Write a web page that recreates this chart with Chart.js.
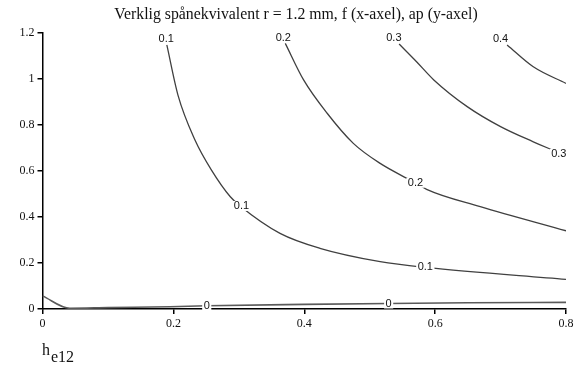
<!DOCTYPE html>
<html>
<head>
<meta charset="utf-8">
<script src="https://cdn.jsdelivr.net/npm/chart.js@4.4.1/dist/chart.umd.min.js"></script>
<style>
  html, body { margin: 0; padding: 0; background: #ffffff; }
  #wrap { width: 579px; height: 378px; position: relative; }
</style>
</head>
<body>
<div id="wrap"><canvas id="c" width="579" height="378"></canvas></div>
<script>
// Title, axes and tick values
const titleText = 'Verklig spånekvivalent r = 1.2 mm, f (x-axel), ap (y-axel)';
const xTicks = [0, 0.2, 0.4, 0.6, 0.8];
const yTicks = [0, 0.2, 0.4, 0.6, 0.8, 1, 1.2];

// Contour levels of h_e12 over f (x) and ap (y)
const levels = ['0', '0.1', '0.2', '0.3', '0.4'];

const f_h0  = [0, 0.042, 0.10, 0.195, 0.251, 0.40, 0.529, 0.65, 0.80];
const ap_h0 = [0.057, 0.003, 0.006, 0.010, 0.014, 0.020, 0.024, 0.027, 0.029];

const f_h01  = [0.190, 0.207, 0.233, 0.258, 0.287, 0.302, 0.363, 0.424, 0.516, 0.585, 0.80];
const ap_h01 = [1.148, 0.930, 0.735, 0.605, 0.488, 0.448, 0.329, 0.264, 0.206, 0.181, 0.129];

const f_h02  = [0.371, 0.399, 0.435, 0.475, 0.516, 0.557, 0.570, 0.587, 0.669, 0.80];
const ap_h02 = [1.155, 0.996, 0.851, 0.720, 0.633, 0.568, 0.549, 0.520, 0.445, 0.340];

const f_h03  = [0.545, 0.572, 0.598, 0.649, 0.700, 0.750, 0.773, 0.80];
const ap_h03 = [1.152, 1.074, 0.996, 0.880, 0.793, 0.727, 0.699, 0.668];

const f_h04  = [0.710, 0.750, 0.80];
const ap_h04 = [1.148, 1.053, 0.981];

// Inline contour labels: level text with its f / ap anchor
const labelText = ['0.1', '0.2', '0.3', '0.4', '0.1', '0.2', '0.3', '0.1', '0', '0'];
const labelF    = [0.189, 0.368, 0.537, 0.700, 0.304, 0.570, 0.789, 0.585, 0.251, 0.529];
const labelAp   = [1.172, 1.178, 1.178, 1.174, 0.448, 0.549, 0.674, 0.181, 0.014, 0.024];

function toPoints(fs, aps) {
  return fs.map((f, i) => ({ x: f, y: aps[i] }));
}

const series = [
  [f_h0, ap_h0], [f_h01, ap_h01], [f_h02, ap_h02], [f_h03, ap_h03], [f_h04, ap_h04]
];

const datasets = series.map((s, i) => ({
  label: levels[i],
  data: toPoints(s[0], s[1]),
  showLine: true,
  borderColor: i === 0 ? '#5a5a5a' : '#404040',
  borderWidth: i === 0 ? 1.6 : 1.3,
  pointRadius: 0,
  cubicInterpolationMode: 'monotone',
  fill: false
}));

const SERIF = '"Liberation Serif", "Times New Roman", serif';
const SANS = '"Liberation Sans", Arial, sans-serif';

const decor = {
  id: 'decor',
  afterDatasetsDraw(chart) {
    const ctx = chart.ctx;
    const xs = chart.scales.x, ys = chart.scales.y;
    ctx.save();
    ctx.font = '11px ' + SANS;
    ctx.textAlign = 'center';
    ctx.textBaseline = 'middle';
    labelText.forEach((t, i) => {
      const px = xs.getPixelForValue(labelF[i]);
      const py = ys.getPixelForValue(labelAp[i]);
      const w = ctx.measureText(t).width;
      ctx.fillStyle = '#ffffff';
      ctx.fillRect(px - w / 2 - 1.5, py - 5, w + 3, 10);
      ctx.fillStyle = '#111111';
      ctx.fillText(t, px, py);
    });
    ctx.restore();
  },
  afterDraw(chart) {
    const ctx = chart.ctx;
    ctx.save();
    ctx.fillStyle = '#111111';
    ctx.textBaseline = 'alphabetic';
    ctx.textAlign = 'center';
    ctx.font = '15.8px ' + SERIF;
    ctx.fillText(titleText, 296, 19);
    ctx.textAlign = 'left';
    ctx.font = '16px ' + SERIF;
    ctx.fillText('h', 42, 355);
    const hw = ctx.measureText('h').width;
    ctx.fillText('e12', 42 + hw + 1, 362);
    ctx.restore();
  }
};

new Chart(document.getElementById('c'), {
  type: 'scatter',
  data: { datasets },
  options: {
    responsive: false,
    animation: false,
    layout: { padding: { top: 33, right: 13, left: 0, bottom: 0 } },
    plugins: { legend: { display: false }, title: { display: false }, tooltip: { enabled: false } },
    scales: {
      x: {
        type: 'linear',
        min: 0, max: 0.8,
        afterBuildTicks(s) { s.ticks = xTicks.map(v => ({ value: v })); },
        afterFit(s) { s.height = 69; },
        border: { display: true, color: '#000000', width: 1.5 },
        grid: { display: true, drawOnChartArea: false, drawTicks: true, tickLength: 5, color: '#000000', lineWidth: 1.5 },
        ticks: { color: '#111111', padding: 3, font: { family: SERIF, size: 12 }, maxRotation: 0,
                 callback: v => String(v) }
      },
      y: {
        type: 'linear',
        min: 0, max: 1.2,
        afterBuildTicks(s) { s.ticks = yTicks.map(v => ({ value: v })); },
        afterFit(s) { s.width = 42.5; },
        border: { display: true, color: '#000000', width: 1.5 },
        grid: { display: true, drawOnChartArea: false, drawTicks: true, tickLength: 5, color: '#000000', lineWidth: 1.5 },
        ticks: { color: '#111111', padding: 3, font: { family: SERIF, size: 12 },
                 callback: v => String(v) }
      }
    }
  },
  plugins: [decor]
});
</script>
</body>
</html>
